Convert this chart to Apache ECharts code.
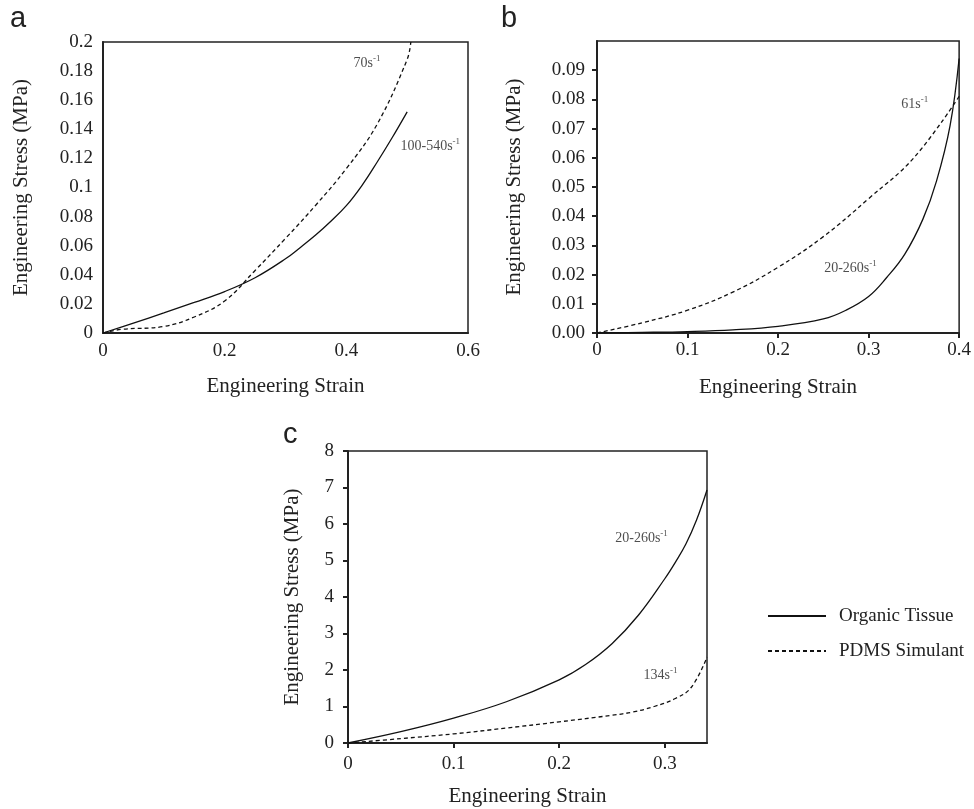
<!DOCTYPE html>
<html>
<head>
<meta charset="utf-8">
<script src="https://cdn.jsdelivr.net/npm/echarts@6/dist/echarts.min.js"></script>
<style>
  html, body { margin: 0; padding: 0; background: #fff; }
  #chart { width: 974px; height: 809px; }
</style>
</head>
<body>
<div id="chart"></div>
<script>
// Panel a: tissue vs. simulant (stress in MPa against engineering strain)
const strainA_tissue = [0, 0.05, 0.1, 0.15, 0.2, 0.25, 0.3, 0.325, 0.35, 0.375, 0.4, 0.425, 0.45, 0.475, 0.5];
const stressA_tissue = [0, 0.0068, 0.0138, 0.021, 0.0285, 0.038, 0.051, 0.059, 0.0675, 0.077, 0.0875, 0.101, 0.117, 0.134, 0.152];
const strainA_pdms = [0, 0.03, 0.1, 0.15, 0.2, 0.25, 0.3, 0.35, 0.4, 0.45, 0.5, 0.506];
const stressA_pdms = [0, 0.0025, 0.0045, 0.011, 0.022, 0.043, 0.065, 0.088, 0.113, 0.143, 0.188, 0.2];

// Panel b
const strainB_tissue = [0, 0.05, 0.1, 0.15, 0.2, 0.25, 0.275, 0.3, 0.32, 0.34, 0.36, 0.375, 0.39, 0.4];
const stressB_tissue = [0, 0.0002, 0.0005, 0.0011, 0.0023, 0.0048, 0.0078, 0.0125, 0.019, 0.027, 0.039, 0.052, 0.071, 0.094];
const strainB_pdms = [0, 0.05, 0.1, 0.15, 0.2, 0.25, 0.3, 0.35, 0.4];
const stressB_pdms = [0, 0.0035, 0.0078, 0.014, 0.0225, 0.033, 0.046, 0.060, 0.081];

// Panel c
const strainC_tissue = [0, 0.05, 0.1, 0.15, 0.2, 0.225, 0.25, 0.275, 0.3, 0.31, 0.32, 0.33, 0.34];
const stressC_tissue = [0, 0.31, 0.68, 1.13, 1.73, 2.15, 2.72, 3.5, 4.5, 4.95, 5.45, 6.1, 6.93];
const strainC_pdms = [0, 0.05, 0.1, 0.15, 0.2, 0.25, 0.27, 0.29, 0.31, 0.325, 0.34];
const stressC_pdms = [0, 0.12, 0.25, 0.41, 0.58, 0.76, 0.85, 1.0, 1.22, 1.52, 2.35];

// Tick values for panel c's strain axis
const ticksC_x = [0, 0.1, 0.2, 0.3];

// Strain-rate annotations: [panel index, strain, stress, rate text]
const rateLabels = [
  [0, 0.434, 0.186, '70s'],
  [0, 0.538, 0.129, '100-540s'],
  [1, 0.351, 0.0788, '61s'],
  [1, 0.280, 0.0226, '20-260s'],
  [2, 0.278, 5.64, '20-260s'],
  [2, 0.296, 1.89, '134s']
];

const SERIF = 'Liberation Serif, Times New Roman, serif';
const SANS = 'Liberation Sans, Arial, sans-serif';
const INK = '#222';
const TISSUE = 'Organic Tissue';
const PDMS = 'PDMS Simulant';

function pairs(xs, ys) { return xs.map((x, i) => [x, ys[i]]); }

const chart = echarts.init(document.getElementById('chart'), null, { renderer: 'canvas' });

const axisLineStyle = { lineStyle: { color: INK, width: 2 } };
const tickStyle = { show: true, length: 5, inside: false, lineStyle: { color: INK, width: 2 } };
const labelStyle = { color: INK, fontFamily: SERIF, fontSize: 19 };
const nameStyle = { color: INK, fontFamily: SERIF, fontSize: 21 };

const grids = [
  { left: 103, top: 42, width: 365, height: 291 },
  { left: 597, top: 41, width: 366, height: 292 },
  { left: 348, top: 451, width: 359, height: 292 }
].map(g => Object.assign(g, { show: true, borderColor: INK, borderWidth: 1.5, backgroundColor: 'transparent', containLabel: false }));

const xAxes = [
  {
    gridIndex: 0, type: 'value', min: 0, max: 0.6, interval: 0.2,
    axisLine: axisLineStyle, axisTick: { show: false }, splitLine: { show: false },
    axisLabel: Object.assign({ margin: 9 }, labelStyle),
    name: 'Engineering Strain', nameLocation: 'middle', nameGap: 43, nameTextStyle: nameStyle
  },
  {
    gridIndex: 1, type: 'value', min: 0, max: 0.4, interval: 0.1,
    axisLine: axisLineStyle, axisTick: tickStyle, splitLine: { show: false },
    axisLabel: Object.assign({ margin: 8 }, labelStyle),
    name: 'Engineering Strain', nameLocation: 'middle', nameGap: 44, nameTextStyle: nameStyle
  },
  {
    gridIndex: 2, type: 'value', min: 0, max: 0.34, interval: 0.1,
    axisLine: axisLineStyle,
    axisTick: Object.assign({ customValues: ticksC_x }, tickStyle),
    splitLine: { show: false },
    axisLabel: Object.assign({ margin: 12, customValues: ticksC_x }, labelStyle),
    name: 'Engineering Strain', nameLocation: 'middle', nameGap: 43, nameTextStyle: nameStyle
  }
];

const yAxes = [
  {
    gridIndex: 0, type: 'value', min: 0, max: 0.2, interval: 0.02,
    axisLine: axisLineStyle, axisTick: { show: false }, splitLine: { show: false },
    axisLabel: Object.assign({ margin: 10 }, labelStyle),
    name: 'Engineering Stress (MPa)', nameLocation: 'middle', nameGap: 71, nameTextStyle: nameStyle
  },
  {
    gridIndex: 1, type: 'value', min: 0, max: 0.1, interval: 0.01,
    axisLine: axisLineStyle, axisTick: tickStyle, splitLine: { show: false },
    axisLabel: Object.assign({ margin: 12, showMaxLabel: false, formatter: v => v.toFixed(2) }, labelStyle),
    name: 'Engineering Stress (MPa)', nameLocation: 'middle', nameGap: 72, nameTextStyle: nameStyle
  },
  {
    gridIndex: 2, type: 'value', min: 0, max: 8, interval: 1,
    axisLine: axisLineStyle, axisTick: tickStyle, splitLine: { show: false },
    axisLabel: Object.assign({ margin: 14 }, labelStyle),
    name: 'Engineering Stress (MPa)', nameLocation: 'middle', nameGap: 45, nameTextStyle: nameStyle
  }
];

function curve(name, idx, xs, ys, dashed) {
  return {
    name: name, type: 'line', xAxisIndex: idx, yAxisIndex: idx,
    data: pairs(xs, ys), symbol: 'none', showSymbol: false,
    smooth: 0.4, silent: true,
    lineStyle: { color: '#111', width: 1.3, type: dashed ? [4, 3] : 'solid' },
    itemStyle: { color: '#111' }
  };
}

// Rate labels ride on invisible scatter points
const annotationSeries = [0, 1, 2].map(idx => ({
  type: 'scatter', xAxisIndex: idx, yAxisIndex: idx, symbolSize: 0, silent: true,
  data: rateLabels.filter(r => r[0] === idx).map(r => ({ value: [r[1], r[2]], txt: r[3] })),
  label: {
    show: true, position: 'inside',
    formatter: p => '{t|' + p.data.txt + '}{s|-1}',
    rich: {
      t: { fontFamily: SERIF, fontSize: 14, color: INK, verticalAlign: 'bottom', lineHeight: 16 },
      s: { fontFamily: SERIF, fontSize: 9, color: INK, verticalAlign: 'top', lineHeight: 16 }
    }
  }
}));

const option = {
  backgroundColor: '#fff',
  animation: false,
  grid: grids,
  xAxis: xAxes,
  yAxis: yAxes,
  legend: {
    orient: 'vertical', left: 762, top: 601,
    data: [TISSUE, PDMS],
    itemWidth: 58, itemHeight: 14, itemGap: 15,
    itemStyle: { opacity: 0 },
    textStyle: { fontFamily: SERIF, fontSize: 19, color: INK, lineHeight: 20, padding: [0, 0, 0, 8] },
    selectedMode: false
  },
  graphic: [
    { type: 'text', left: 10, top: 4, style: { text: 'a', font: '29px ' + SANS, fill: INK } },
    { type: 'text', left: 501, top: 4, style: { text: 'b', font: '29px ' + SANS, fill: INK } },
    { type: 'text', left: 283, top: 420, style: { text: 'c', font: '29px ' + SANS, fill: INK } }
  ],
  series: [
    curve(TISSUE, 0, strainA_tissue, stressA_tissue, false),
    curve(PDMS, 0, strainA_pdms, stressA_pdms, true),
    curve(TISSUE, 1, strainB_tissue, stressB_tissue, false),
    curve(PDMS, 1, strainB_pdms, stressB_pdms, true),
    curve(TISSUE, 2, strainC_tissue, stressC_tissue, false),
    curve(PDMS, 2, strainC_pdms, stressC_pdms, true)
  ].concat(annotationSeries)
};

chart.setOption(option);
</script>
</body>
</html>
